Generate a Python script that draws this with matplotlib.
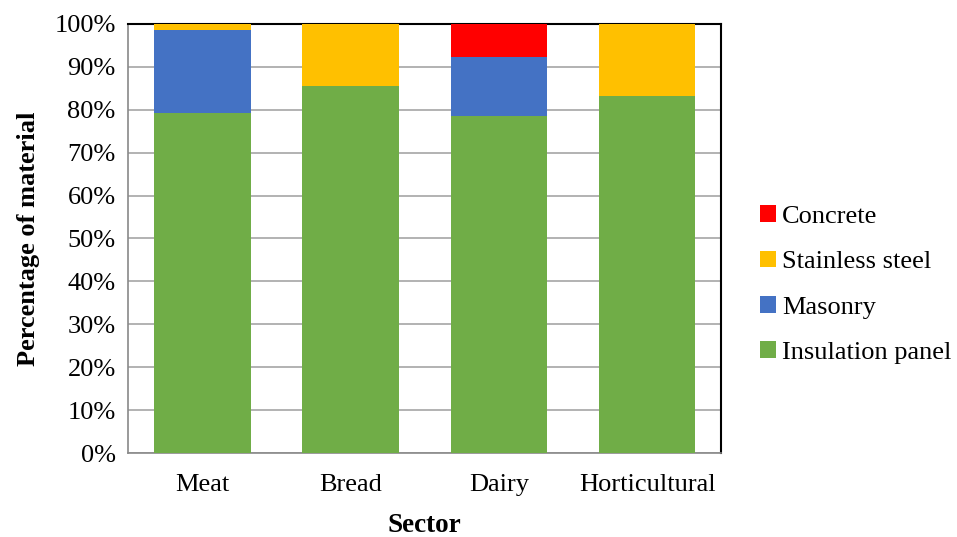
import matplotlib.pyplot as plt
import numpy as np

sectors = ['Meat', 'Bread', 'Dairy', 'Horticultural']
insulation = [79.3, 85.6, 78.5, 83.3]
masonry = [19.2, 0.0, 13.7, 0.0]
stainless = [1.5, 14.4, 0.0, 16.7]
concrete = [0.0, 0.0, 7.8, 0.0]
yticks = np.arange(0, 101, 10)

plt.rcParams['font.family'] = ['Liberation Serif', 'DejaVu Serif']

fig = plt.figure(figsize=(9.57, 5.37), dpi=100)
ax = fig.add_axes([0.134, 0.1564, 0.6197, 0.799])

x = np.arange(len(sectors))
w = 0.65
# stacked bars, bottom to top
b1 = np.array(insulation)
b2 = b1 + np.array(masonry)
b3 = b2 + np.array(stainless)
ax.bar(x, insulation, w, color='#70AD47', label='Insulation panel', zorder=3)
ax.bar(x, masonry, w, bottom=b1, color='#4472C4', label='Masonry', zorder=3)
ax.bar(x, stainless, w, bottom=b2, color='#FFC000', label='Stainless steel', zorder=3)
ax.bar(x, concrete, w, bottom=b3, color='#FF0000', label='Concrete', zorder=3)

ax.set_xlim(-0.5, 3.5)
ax.set_ylim(0, 100)
ax.set_yticks(yticks)
ax.set_yticklabels(['%d%%' % v for v in yticks], fontsize=19)
ax.set_xticks(x)
ax.set_xticklabels(sectors, fontsize=19)
ax.tick_params(axis='x', length=0, pad=15)
ax.tick_params(axis='y', length=0, pad=9)
ax.yaxis.grid(True, color='#A6A6A6', linewidth=1.2, zorder=0)

for s in ['left', 'bottom']:
    ax.spines[s].set_color('#898989')
    ax.spines[s].set_linewidth(1.2)
for s in ['top', 'right']:
    ax.spines[s].set_color('black')
    ax.spines[s].set_linewidth(1.5)

ax.set_xlabel('Sector', fontsize=19.5, fontweight='bold', labelpad=12)
ax.set_ylabel('Percentage of material', fontsize=19, fontweight='bold', labelpad=10)

handles, labels = ax.get_legend_handles_labels()
fig.legend(handles[::-1], labels[::-1], loc='center left', bbox_to_anchor=(0.794, 0.470),
           bbox_transform=fig.transFigure, frameon=False, fontsize=19,
           handlelength=0.6, handleheight=0.6, handletextpad=0.25,
           labelspacing=0.86, borderpad=0, borderaxespad=0)

fig.savefig('out.png', dpi=100)
